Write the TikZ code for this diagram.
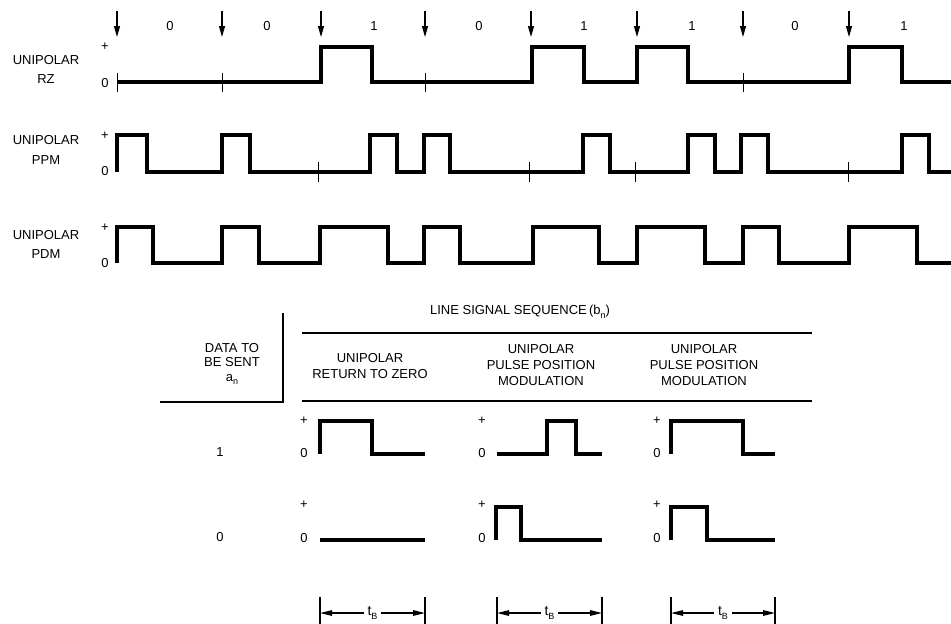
\documentclass[tikz,border=0pt]{standalone}
\usepackage{fontspec}
\setmainfont{Liberation Sans}
\usetikzlibrary{arrows.meta}
\newcommand\lowsub[1]{\raisebox{-0.5ex}{\fontsize{9}{9}\selectfont #1}}
\begin{document}
\begin{tikzpicture}[x=1pt,y=-1pt,
  wave/.style={line width=4pt, line join=miter},
  tickmark/.style={line width=1pt},
  txt/.style={font=\fontsize{13}{19.5}\selectfont, inner sep=0pt, align=center},
  hdr/.style={font=\fontsize{13}{16}\selectfont, inner sep=0pt, align=center},
  lvl/.style={font=\fontsize{13}{13}\selectfont, inner sep=0pt},
  bitarrow/.style={line width=1.3pt, -{Triangle[length=11pt,width=6pt]}},
  dimline/.style={line width=1.3pt, {Triangle[length=12pt,width=5.5pt]}-{Triangle[length=12pt,width=5.5pt]}},
  tablerule/.style={line width=2.5pt},
  lrule/.style={line width=2pt}]
\useasboundingbox (0,0) rectangle (951,624);

% ---------- bit boundaries and arrows ----------
\foreach \x [count=\i] in {117,222,321,425,531,637,743,849}{
  \coordinate (as\i) at (\x,11);
  \coordinate (ae\i) at (\x,37);
  \draw[bitarrow] (as\i) -- (ae\i);
}
\foreach \x/\b [count=\i] in {170/0,267/0,374/1,479/0,584/1,692/1,795/0,904/1}{
  \node[txt] (bit\i) at (\x,26) {\b};
}

% ---------- row labels ----------
\node[txt] (lrz) at (46,69.5) {UNIPOLAR\\RZ};
\node[txt] (lppm) at (46,150) {UNIPOLAR\\PPM};
\node[txt] (lpdm) at (46,244.5) {UNIPOLAR\\PDM};

\node[lvl] (rzp) at (105,47) {+};
\node[lvl] (rz0) at (105,83) {0};
\node[lvl] (ppmp) at (105,136) {+};
\node[lvl] (ppm0) at (105,171) {0};
\node[lvl] (pdmp) at (105,228) {+};
\node[lvl] (pdm0) at (105,263) {0};

% ---------- RZ ----------
\draw[wave] (117,82) -- (321,82) -- (321,47) -- (372,47) -- (372,82) -- (532,82) -- (532,47) -- (584,47) -- (584,82)
  -- (637,82) -- (637,47) -- (688,47) -- (688,82) -- (849,82) -- (849,47) -- (902,47) -- (902,82) -- (951,82);
\foreach \x in {117,222,425,743}{\draw[tickmark] (\x,73) -- (\x,92);}

% ---------- PPM ----------
\draw[wave] (117,172) -- (117,135) -- (147,135) -- (147,172) -- (222,172) -- (222,135) -- (250,135) -- (250,172)
  -- (370,172) -- (370,135) -- (397,135) -- (397,172) -- (424,172) -- (424,135) -- (450,135) -- (450,172)
  -- (583,172) -- (583,135) -- (610,135) -- (610,172) -- (688,172) -- (688,135) -- (715,135) -- (715,172)
  -- (741,172) -- (741,135) -- (768,135) -- (768,172) -- (902,172) -- (902,135) -- (929,135) -- (929,172) -- (951,172);
\foreach \x in {318,529,635,848}{\draw[tickmark] (\x,162) -- (\x,182);}

% ---------- PDM ----------
\draw[wave] (117,263) -- (117,227) -- (153,227) -- (153,263) -- (222,263) -- (222,227) -- (259,227) -- (259,263)
  -- (320,263) -- (320,227) -- (388,227) -- (388,263) -- (424,263) -- (424,227) -- (460,227) -- (460,263)
  -- (533,263) -- (533,227) -- (599,227) -- (599,263) -- (637,263) -- (637,227) -- (705,227) -- (705,263)
  -- (743,263) -- (743,227) -- (779,227) -- (779,263) -- (849,263) -- (849,227) -- (917,227) -- (917,263) -- (951,263);

% ---------- table ----------
\node[txt] (lss) at (520,312) {LINE SIGNAL SEQUENCE\,(b\lowsub{n})};
\coordinate (r1a) at (302,333); \coordinate (r1b) at (812,333);
\coordinate (r2a) at (302,401); \coordinate (r2b) at (812,401);
\draw[tablerule] (r1a) -- (r1b);
\draw[tablerule] (r2a) -- (r2b);
\coordinate (la) at (283,313); \coordinate (lb) at (283,402); \coordinate (lc) at (160,402);
\draw[lrule] (la) -- (lb) -- (lc);

\node[hdr, font=\fontsize{13}{14.5}\selectfont] (ldata) at (232,364) {DATA TO\\BE SENT\\a\lowsub{n}};
\node[hdr] (hc1) at (370,366.5) {UNIPOLAR\\RETURN TO ZERO};
\node[hdr] (hc2) at (541,365.5) {UNIPOLAR\\PULSE POSITION\\MODULATION};
\node[hdr] (hc3) at (704,365.5) {UNIPOLAR\\PULSE POSITION\\MODULATION};

\node[txt] (row1) at (220,452) {1};
\node[txt] (row0) at (220,537) {0};

\foreach \x/\n in {304/a,482/b,657/c}{
  \node[lvl] (p1\n) at (\x,421) {+};
  \node[lvl] (z1\n) at (\x,453) {0};
  \node[lvl] (p0\n) at (\x,505) {+};
  \node[lvl] (z0\n) at (\x,538) {0};
}

\draw[wave] (320,454) -- (320,421) -- (372,421) -- (372,454) -- (425,454);
\draw[wave] (320,540) -- (425,540);
\draw[wave] (497,454) -- (547,454) -- (547,421) -- (576,421) -- (576,454) -- (602,454);
\draw[wave] (496,540) -- (496,507) -- (521,507) -- (521,540) -- (602,540);
\draw[wave] (671,454) -- (671,421) -- (743,421) -- (743,454) -- (775,454);
\draw[wave] (671,540) -- (671,507) -- (707,507) -- (707,540) -- (775,540);

% ---------- bit-period dimensions ----------
\foreach \xa/\xb/\n in {320/425/a,497/602/b,671/775/c}{
  \coordinate (dt\n1) at (\xa,597); \coordinate (db\n1) at (\xa,624);
  \coordinate (dt\n2) at (\xb,597); \coordinate (db\n2) at (\xb,624);
  \draw[lrule] (dt\n1) -- (db\n1);
  \draw[lrule] (dt\n2) -- (db\n2);
  \coordinate (dl\n) at (\xa,613); \coordinate (dr\n) at (\xb,613);
  \draw[dimline] (dl\n) -- node[fill=white, inner xsep=4pt, inner ysep=1pt, font=\fontsize{14}{14}\selectfont] (tb\n) {t\lowsub{B}} (dr\n);
}
\end{tikzpicture}
\end{document}
